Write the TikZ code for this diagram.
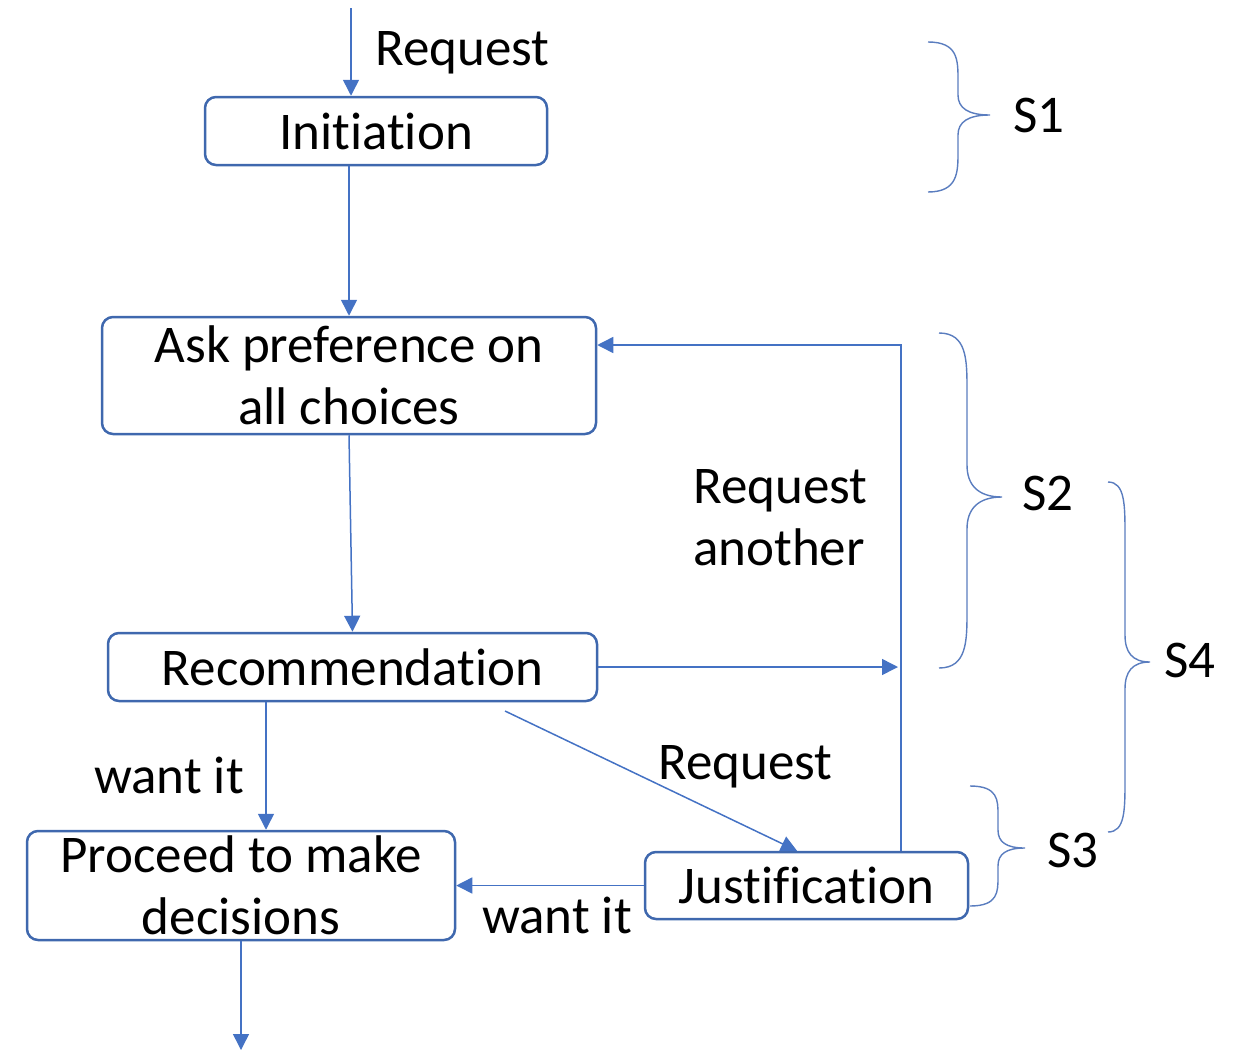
\documentclass[tikz,border=0pt]{standalone}
\usepackage{fontspec}
\setmainfont[Ligatures=CommonOff]{Carlito}
\usetikzlibrary{arrows.meta}
\definecolor{boxc}{HTML}{3F68AE}
\definecolor{linec}{HTML}{4472C4}
\definecolor{bracec}{HTML}{5A7DBF}
\begin{document}
\begin{tikzpicture}[x=1pt,y=-1pt,
 box/.style={draw=boxc, line width=2.5pt, rounded corners=11pt, inner sep=0pt, align=center, font=\fontsize{53}{62}\selectfont},
 conn/.style={draw=linec, line width=1.5pt, -{Triangle[length=16pt,width=16pt]}},
 lbl/.style={font=\fontsize{53}{62}\selectfont, inner sep=0pt},
 brc/.style={draw=bracec, line width=1.4pt}]
\useasboundingbox (0,0) rectangle (1233,1052);

% boxes
\node[box, minimum width=342pt, minimum height=68pt] (init) at (376,131) {Initiation};
\node[box, minimum width=494pt, minimum height=117pt] (ask) at (349,375.5) {Ask preference on\\all choices};
\node[box, minimum width=489pt, minimum height=68pt] (rec) at (352.5,667) {Recommendation};
\node[box, minimum width=428pt, minimum height=109pt] (proc) at (241,885.5) {Proceed to make\\decisions};
\node[box, minimum width=323pt, minimum height=67pt] (just) at (806.5,885.5) {Justification};

% labels
\node[lbl, anchor=west] (l1) at (375,53) {Request};
\node[lbl, align=left, anchor=west] (l2) at (693,518) {Request\\another};
\node[lbl, anchor=west] (l3) at (94,775) {want it};
\node[lbl, anchor=west] (l4) at (658,767) {Request};
\node[lbl, anchor=west] (l5) at (482,915) {want it};
\node[lbl] (s1) at (1039,115) {S1};
\node[lbl] (s2) at (1048,493) {S2};
\node[lbl] (s4) at (1190,660) {S4};
\node[lbl] (s3) at (1073,850) {S3};

% helper coordinates
\coordinate (top) at (351,8);
\coordinate (vx) at (901,0);
\coordinate (y345) at (0,345);
\coordinate (w1) at (266,0);
\coordinate (d0) at (505,711);
\coordinate (d1) at (797,0);
\coordinate (bot) at (241,1050);

% connectors
\draw[conn] (top) -- (top |- init.north);
\draw[conn] (init.south -| ask.north) -- (ask.north);
\draw[conn] (ask.south) -- (rec.north);
\draw[conn, shorten >=3pt] (rec.east) -- (rec.east -| vx);
\draw[conn] (just.north -| vx) -- (vx |- y345) -- (ask.east |- y345);
\draw[conn] (rec.south -| w1) -- (proc.north -| w1);
\draw[conn] (d0) -- (just.north -| d1);
\draw[conn] (just.west) -- (proc.east |- just.west);
\draw[conn] (proc.south) -- (bot);

% braces
\draw[brc] (928,42) .. controls (958,42) and (958,60) .. (958,80) -- (958,95) .. controls (958,108) and (968,115) .. (990,115) .. controls (968,115) and (958,122) .. (958,135) -- (958,152) .. controls (958,172) and (958,192) .. (928,192);
\draw[brc] (939,333) .. controls (967,333) and (967,360) .. (967,390) -- (967,465) .. controls (967,485) and (978,497) .. (1002,497) .. controls (978,497) and (967,509) .. (967,529) -- (967,611) .. controls (967,641) and (967,668) .. (939,668);
\draw[brc] (1108,482) .. controls (1125,482) and (1125,505) .. (1125,535) -- (1125,635) .. controls (1125,652) and (1132,662) .. (1150,662) .. controls (1132,662) and (1125,672) .. (1125,689) -- (1125,780) .. controls (1125,810) and (1125,832) .. (1108,832);
\draw[brc] (970,786) .. controls (998,786) and (998,800) .. (998,815) -- (998,830) .. controls (998,842) and (1006,848) .. (1025,848) .. controls (1006,848) and (998,854) .. (998,866) -- (998,877) .. controls (998,892) and (998,906) .. (970,906);
\end{tikzpicture}
\end{document}
